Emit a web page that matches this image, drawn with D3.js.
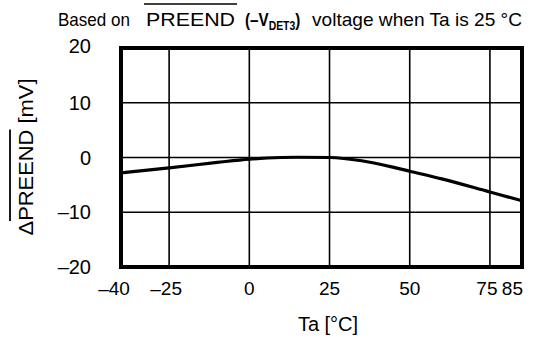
<!DOCTYPE html>
<html>
<head>
<meta charset="utf-8">
<script src="https://cdn.jsdelivr.net/npm/d3@7"></script>
<style>
  html, body { margin: 0; padding: 0; background: #fff; }
  svg { display: block; }
  text { font-family: "Liberation Sans", Arial, sans-serif; fill: #000; }
</style>
</head>
<body>
<svg id="chart" width="536" height="338"></svg>
<script>
// ---- data ----
const temps  = [-40, -25, -10, 0, 10, 15, 25, 35, 45, 50, 60, 75, 85];
const deltaV = [-2.8, -1.9, -0.9, -0.3, 0, 0.05, 0, -0.6, -1.8, -2.5, -3.9, -6.3, -7.9];
const xTicks = [-40, -25, 0, 25, 50, 75, 85];
const xGrid  = [-25, 0, 25, 50, 75];
const yTicks = [20, 10, 0, -10, -20];
const yGrid  = [10, 0, -10];
const xTickLabels = ["\u201340", "\u201325", "0", "25", "50", "75", "85"];
const yTickLabels = ["20", "10", "0", "\u201310", "\u201320"];

const svg = d3.select("#chart");
const L = 121, R = 522, T = 48, B = 267;
const x = d3.scaleLinear().domain([-40, 85]).range([L, R]);
const y = d3.scaleLinear().domain([-20, 20]).range([B, T]);

// grid
svg.append("g").selectAll("line").data(xGrid).join("line")
  .attr("x1", d => x(d)).attr("x2", d => x(d)).attr("y1", T).attr("y2", B)
  .attr("stroke", "#000").attr("stroke-width", 1.6);
svg.append("g").selectAll("line").data(yGrid).join("line")
  .attr("y1", d => y(d)).attr("y2", d => y(d)).attr("x1", L).attr("x2", R)
  .attr("stroke", "#000").attr("stroke-width", 1.6);

// curve
const pts = temps.map((t, i) => [t, deltaV[i]]);
svg.append("path").datum(pts)
  .attr("d", d3.line().x(d => x(d[0])).y(d => y(d[1])).curve(d3.curveMonotoneX))
  .attr("fill", "none").attr("stroke", "#000").attr("stroke-width", 3.2);

// frame
svg.append("rect").attr("x", L).attr("y", T).attr("width", R - L).attr("height", B - T)
  .attr("fill", "none").attr("stroke", "#000").attr("stroke-width", 4);

// y tick labels
svg.append("g").selectAll("text").data(yTicks).join("text")
  .attr("x", 91).attr("y", d => y(d) - (d === 20 ? 2 : 0)).attr("dy", "0.36em")
  .attr("text-anchor", "end").attr("font-size", 20)
  .text((d, i) => yTickLabels[i]);

// x tick labels
const xOff = {"-40": -7, "-25": -3, "75": -3};
svg.append("g").selectAll("text").data(xTicks).join("text")
  .attr("x", d => d === 85 ? 523 : x(d) + (xOff[d] || 0))
  .attr("y", 295)
  .attr("text-anchor", d => d === 85 ? "end" : "middle").attr("font-size", 19)
  .text((d, i) => xTickLabels[i]);

// x axis title
svg.append("text").attr("x", 328).attr("y", 331).attr("text-anchor", "middle")
  .attr("font-size", 20).text("Ta [\u00B0C]");

// y axis title
const yt = svg.append("g").attr("transform", "translate(33,157) rotate(-90)");
const ytxt = yt.append("text").attr("x", 0).attr("y", 0).attr("text-anchor", "middle")
  .attr("font-size", 21).attr("textLength", 157).attr("lengthAdjust", "spacingAndGlyphs")
  .text("\u0394PREEND [mV]");
{
  const n = ytxt.node();
  const a = n.getExtentOfChar(1), b = n.getExtentOfChar(6);
  yt.append("line").attr("x1", a.x).attr("x2", b.x + b.width)
    .attr("y1", -23).attr("y2", -23).attr("stroke", "#000").attr("stroke-width", 1.8);
}

// title
const title = svg.append("g");
function seg(txt, x0, w, opts = {}) {
  return title.append("text").attr("x", x0).attr("y", opts.y || 26)
    .attr("font-size", opts.size || 19).attr("font-weight", opts.bold ? "bold" : "normal")
    .attr("textLength", w).attr("lengthAdjust", "spacingAndGlyphs").text(txt);
}
seg("Based on", 58, 72);
seg("PREEND", 146, 89);
title.append("line").attr("x1", 144).attr("x2", 237).attr("y1", 4).attr("y2", 4)
  .attr("stroke", "#000").attr("stroke-width", 1.6);
{
  const v = title.append("text").attr("transform", "translate(245,26) scale(0.8,1)")
    .attr("font-size", 19).attr("font-weight", "bold");
  v.append("tspan").text("(\u2013V");
  v.append("tspan").attr("font-size", 13).attr("dy", 4).text("DET3");
  v.append("tspan").attr("dy", -4).text(")");
}
seg("voltage when Ta is 25 \u00B0C", 312, 210);
</script>
</body>
</html>
